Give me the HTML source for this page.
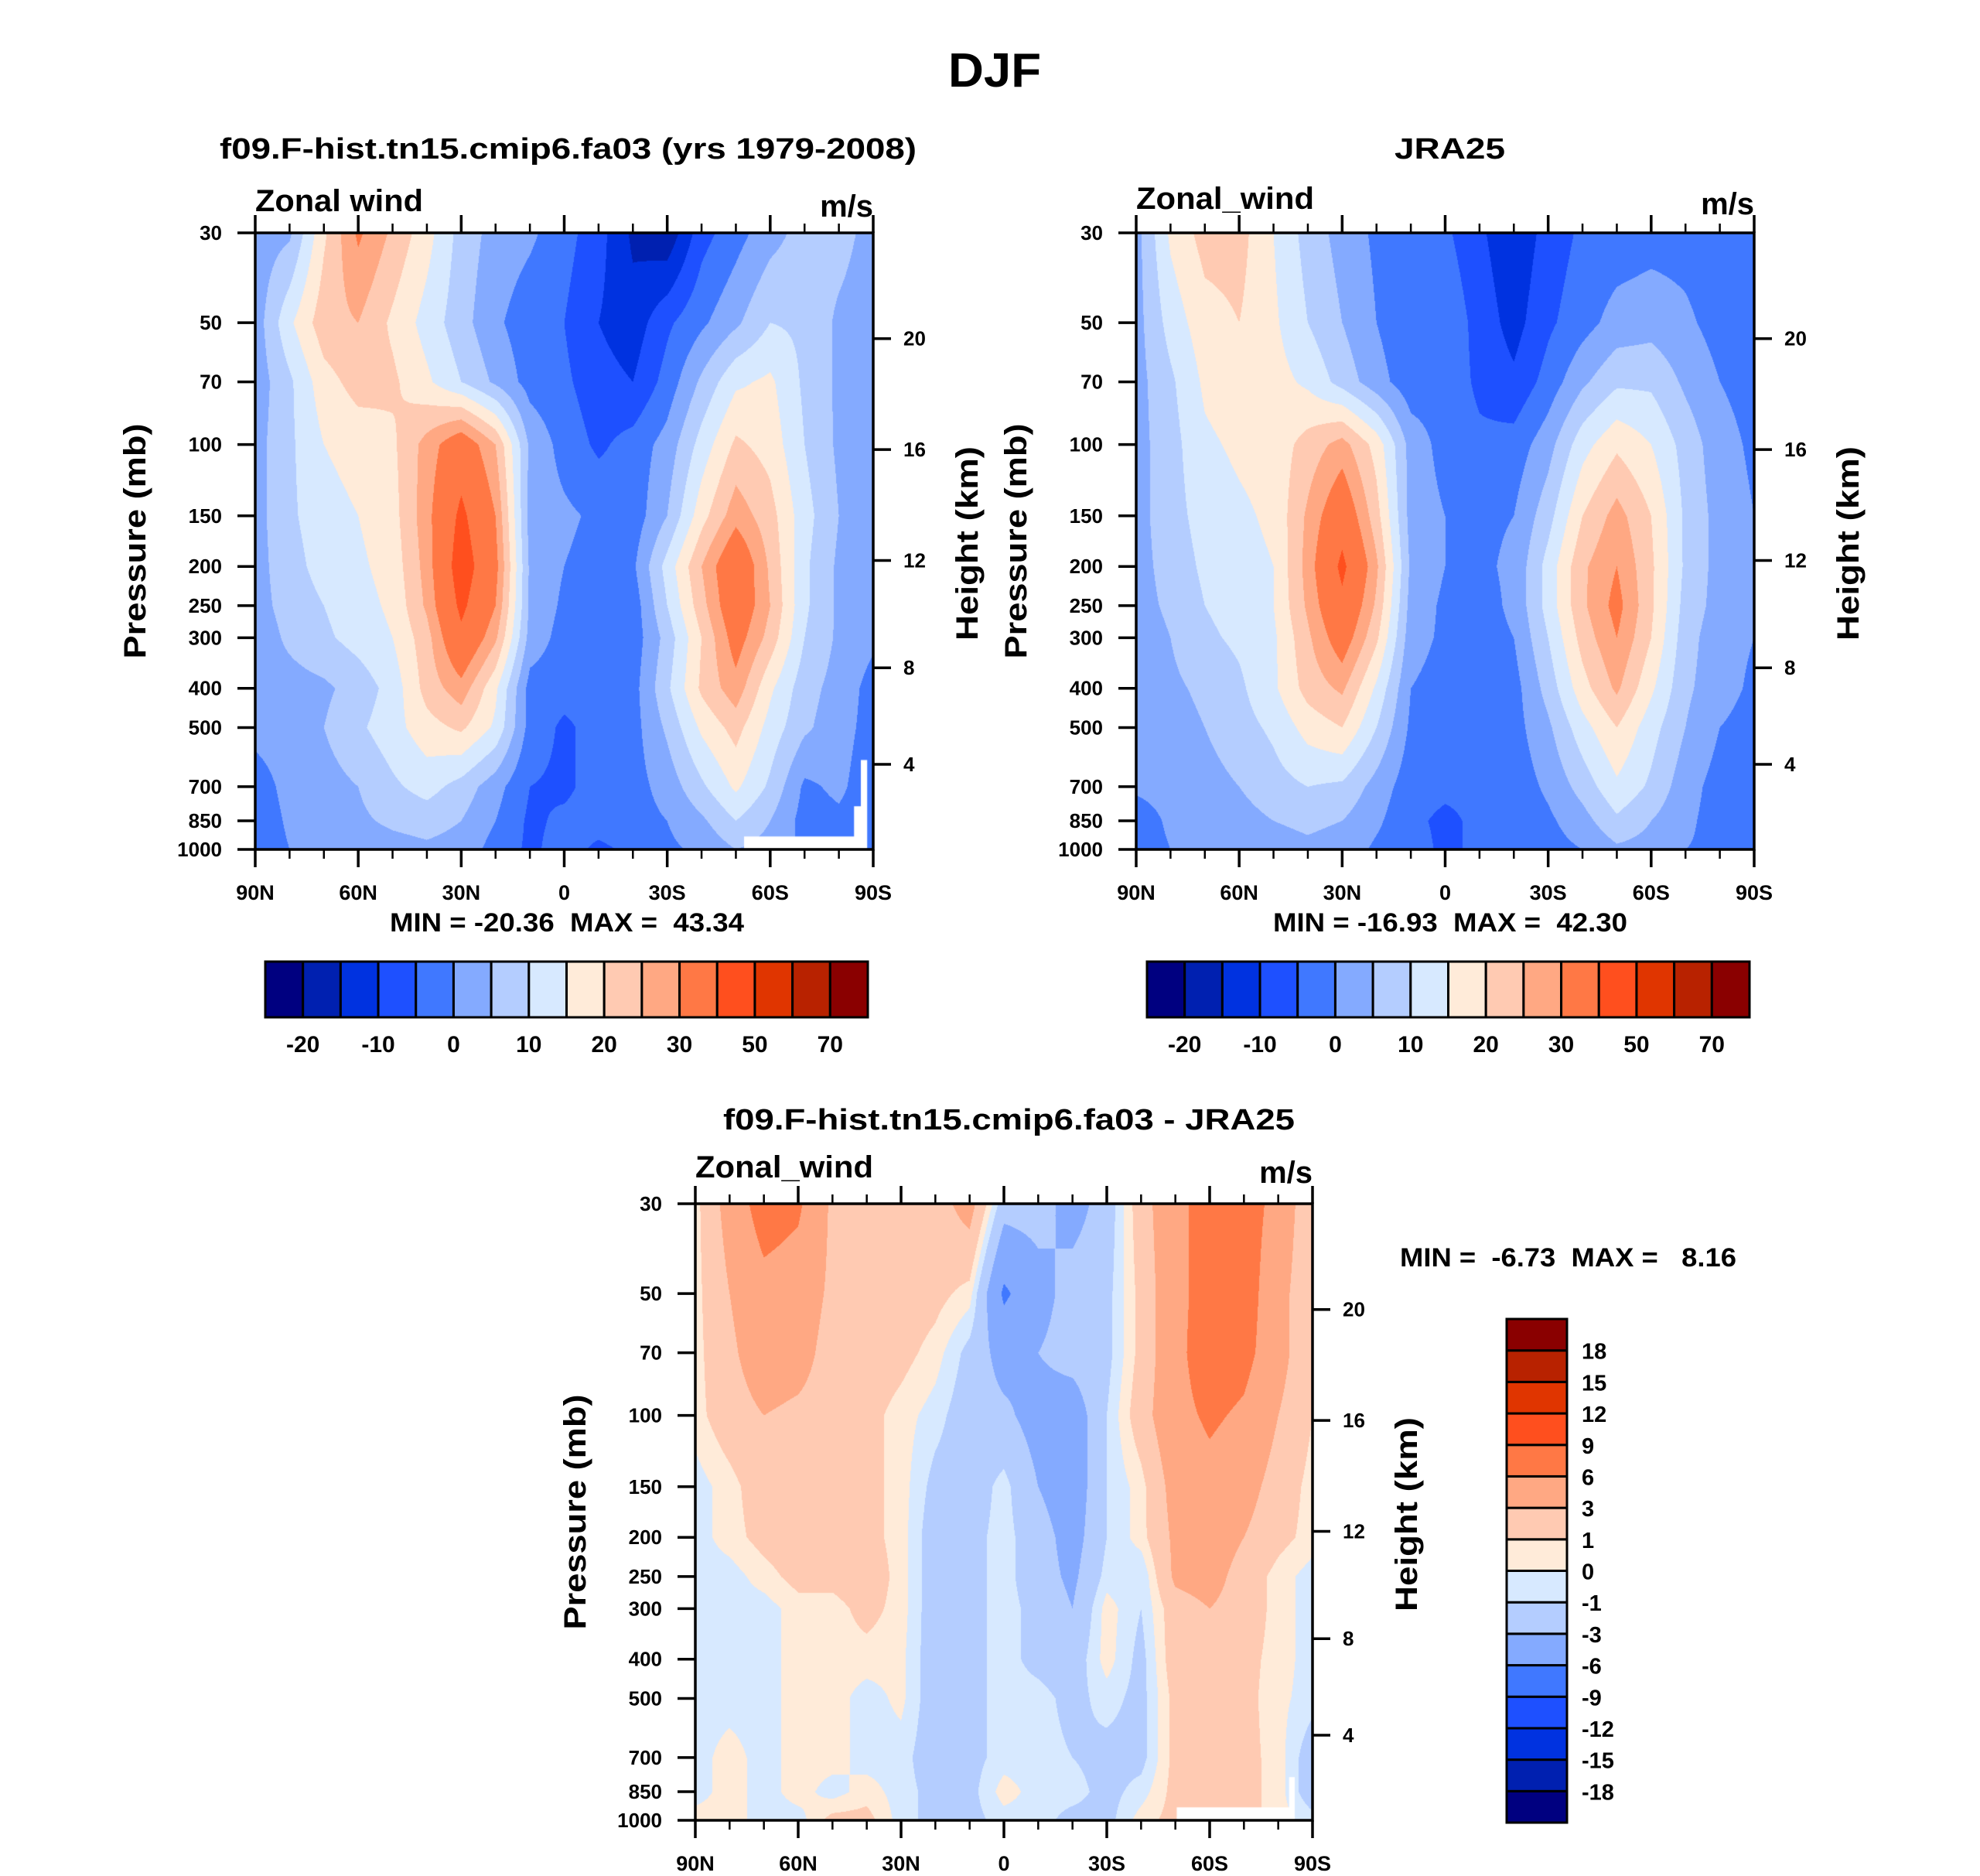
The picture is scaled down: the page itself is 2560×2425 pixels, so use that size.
<!DOCTYPE html>
<html><head><meta charset="utf-8">
<style>
html,body{margin:0;padding:0;background:#fff;}
#wrap{position:relative;width:2560px;height:2425px;overflow:hidden;background:#fff;}
canvas{position:absolute;}
svg{position:absolute;left:0;top:0;}
text{font-family:"Liberation Sans",Arial,sans-serif;font-weight:bold;fill:#000;white-space:pre;}
</style></head>
<body>
<div id="wrap">
<canvas id="c1"></canvas>
<canvas id="c2"></canvas>
<canvas id="c3"></canvas>
<svg id="ov" width="2560" height="2425"></svg>
</div>
<script>
// ---------- data ----------
const lats = [90,80,70,60,50,40,30,20,10,0,-10,-20,-30,-40,-50,-60,-70,-80,-90];
const levels = [30,50,70,100,150,200,250,300,400,500,700,850,1000];
const pressureTicks = [30,50,70,100,150,200,250,300,400,500,700,850,1000];
const heightTicks = [4,8,12,16,20];
const latTickLabels = ['90N','60N','30N','0','30S','60S','90S'];
const windLevels = [-20,-15,-10,-5,0,5,10,15,20,25,30,40,50,60,70];
const windLabelVals = [-20,-10,0,10,20,30,50,70];
const diffLevels = [-18,-15,-12,-9,-6,-3,-1,0,1,3,6,9,12,15,18];
const palette = ['#000080','#0020b0','#0032e0','#1e50ff','#4078ff','#84aaff','#b4cdff','#d7e9ff','#ffebd9','#ffcab2','#ffa883','#ff7845','#ff4f1e','#e03500','#b82200','#8a0000'];

const modelU = [
[2,4,19,31,24,17,8,3,1,-3,-8,-16,-19,-7,-2,3,7,7,3],
[2,14,23,25,19,13,7,1,-3,-5,-10,-13,-6,-1,4,10,9,4,2],
[2,9,18,22,21,16,10,4,-2,-4,-8,-10,-3,6,14,16,9,4,2],
[3,9,15,17,19,27,35,25,4,-2,-6,-3,2,12,21,18,10,4,2],
[3,9,13,15,18,28,42,30,3,1,-1,-3,5,18,28,22,12,5,3],
[3,8,12,14,17,27,45,32,4,0,-2,-1,12,25,37,24,11,4,2],
[3,7,10,13,16,26,42,30,4,-1,-3,-3,10,23,36,25,11,4,2],
[2,6,9,12,15,23,38,26,3,-2,-3,-3,7,20,33,23,10,4,1],
[3,3,4,7,12,22,28,16,-2,-3,-3,-2,9,21,28,16,7,3,-2],
[2,3,5,9,13,18,21,14,-2,-6,-3,-2,6,16,22,13,6,2,-2],
[-3,2,3,5,9,12,8,2,-5,-6,-3,-2,2,9,16,9,-1,1,-3],
[-4,1,2,4,6,7,5,0,-6,-4,-3,-2,0,4,10,5,-2,-1,-3],
[-4,0,1,2,3,4,3,-2,-6,-3,-6,-4,-1,1,5,3,-1,-1,-2]];

const jraU = [
[3,16,22,22,15,8,3,-1,-4,-4,-9,-14,-8,-4,-3,-2,-2,-3,-3],
[3,12,18,20,16,10,5,0,-4,-1,-7,-12,-6,-2,2,3,1,-2,-3],
[3,9,16,18,17,14,8,2,-3,-2,-6,-9,-3,4,9,9,4,0,-2],
[3,8,14,16,17,22,27,18,3,-2,-4,-3,3,13,19,15,8,2,-1],
[3,8,12,14,16,26,36,22,3,0,-1,0,8,20,27,20,9,3,0],
[3,7,11,13,15,27,42,26,4,0,-1,1,12,24,30,21,9,3,0],
[3,6,10,12,15,26,38,24,3,-1,-2,1,12,24,32,21,8,3,0],
[2,5,9,11,14,24,34,21,2,-1,-2,0,10,22,30,20,7,2,0],
[2,4,6,9,14,22,26,14,0,-2,-3,-2,7,18,26,16,6,2,-1],
[2,3,5,8,11,17,20,10,-1,-3,-3,-2,4,13,20,12,5,0,-2],
[1,2,3,5,8,10,9,3,-3,-4,-4,-3,1,7,14,9,2,-2,0],
[-3,1,2,3,5,6,5,1,-4,-6,-4,-3,-1,3,9,5,1,-2,-2],
[-3,0,1,2,3,4,3,-1,-3,-6,-4,-3,-2,0,4,3,0,-1,-1]];

const diffU = [
[0.5,4,7.5,6.5,2.5,2,2,2,4,-2,-2,-4,-2,2,5,7.5,7.5,5,1],
[0.5,3,5,4.5,2.5,2,2,1.5,0.5,-6.5,-4,-2,-1.5,1.5,5,7.5,7.5,4,1],
[0.5,2.5,4.5,4,2,2,1.5,0.5,-1.5,-4,-3,-2,-1.5,1.5,5,8,7,4,1],
[0.5,2,3,2.5,2,1.5,0.5,-0.5,-2,-2.5,-4,-4.5,-1,2,5,6.5,5.5,3,1],
[-0.5,0.5,2,2,1.5,1.5,0.5,-1.5,-2,-0.5,-3,-4.5,-1,0.5,4,5,4,2,0.5],
[-0.5,0.5,1.5,2,1.5,1.5,0.5,-2,-1.5,-0.5,-2,-4,-1,0.5,3.5,4.5,3,1.5,0.5],
[-0.5,-0.5,0.5,1.5,1.5,2,0.5,-2,-1.5,-0.5,-2,-3.5,-0.5,-1,3.5,4,2,0.5,-0.5],
[-0.5,-0.5,-0.5,0.5,0.5,1.5,0.5,-2,-1.5,-0.5,-1.5,-3,0.5,-1,2,3,2,0.5,-0.5],
[-0.5,-0.5,-0.5,0.5,0.5,0.5,0.3,-2,-1.5,-0.5,-1.5,-2,0.5,-1.5,2,2.5,1.5,0.5,-0.5],
[-0.5,-0.5,-0.5,0.5,0.5,-0.5,0.3,-2,-1.5,-0.5,-0.5,-1.5,-0.5,-1.5,1.5,2,1.5,0.3,-0.5],
[-0.5,0.5,-0.5,0.5,0.5,-0.5,-0.5,-2,-1.5,-0.5,-0.5,-1,-1.5,-1.5,1.5,2,1.5,0.5,-2],
[-0.5,0.5,-0.5,0.5,-0.5,0.5,-0.5,-1.5,-1.5,0.5,-0.5,-0.5,-1.5,-0.5,1.5,2,1.5,0.5,-2],
[0.5,0.5,-0.5,-0.5,1.5,1.5,-0.5,-1.5,-1.5,-0.5,-0.5,-1.5,-1.5,0.5,1.5,1.5,1.5,0.5,-0.5]];

// ---------- layout ----------
const panels = [
 {id:'c1', key:'model', x:330, y:301, w:799, h:797, field:modelU, lv:windLevels,
  title:'f09.F-hist.tn15.cmip6.fa03 (yrs 1979-2008)', tx:284, tw:901, ty:205,
  left:'Zonal wind', lw:217, lb:273, mask:[[0.791,0.979,0.178,0.021],[0.969,0.93,0.011,0.07],[0.98,0.855,0.009,0.145]],
  minmax:'MIN = -20.36  MAX =  43.34', mmx:504, mmw:458, mmy:1204,
  cb:{x:343,y:1243,w:779,h:72}},
 {id:'c2', key:'jra25', x:1469, y:301, w:799, h:797, field:jraU, lv:windLevels,
  title:'JRA25', tx:1803, tw:143, ty:205,
  left:'Zonal_wind', lw:230, lb:270, mask:[],
  minmax:'MIN = -16.93  MAX =  42.30', mmx:1646, mmw:458, mmy:1204,
  cb:{x:1483,y:1243,w:779,h:72}},
 {id:'c3', key:'diff', x:899, y:1556, w:798, h:797, field:diffU, lv:diffLevels,
  title:'f09.F-hist.tn15.cmip6.fa03 - JRA25', tx:935, tw:739, ty:1460,
  left:'Zonal_wind', lw:230, lb:1522, mask:[[0.78,0.979,0.182,0.021],[0.962,0.93,0.008,0.07]],
  minmax:'MIN =  -6.73  MAX =   8.16', mmx:1810, mmw:435, mmy:1637, cb:null}
];
const LP0 = Math.log(30), LPR = Math.log(1000/30);
function yFrac(p){ return (Math.log(p)-LP0)/LPR; }
function xFrac(lat){ return (90-lat)/180; }
function pOfZ(z){ if(z<=11){const T=288.15-6.5*z; return 1013.25*Math.pow(T/288.15,5.2559);} return 226.32*Math.exp(-(z-11)/6.3416); }
function colorIdx(v,lv){ let i=0; while(i<lv.length && v>=lv[i]) i++; return i; }
function hex(c){ return [parseInt(c.substr(1,2),16),parseInt(c.substr(3,2),16),parseInt(c.substr(5,2),16)]; }
const pal = palette.map(hex);

// ---------- fields ----------
panels.forEach(P=>{
  const cv=document.getElementById(P.id);
  cv.width=P.w; cv.height=P.h;
  cv.style.left=P.x+'px'; cv.style.top=P.y+'px';
  const ctx=cv.getContext('2d');
  const img=ctx.createImageData(P.w,P.h);
  const lvFr = levels.map(yFrac);
  const nx=lats.length-1;
  for(let py=0;py<P.h;py++){
    const f=(py+0.5)/P.h;
    let k=0; while(k<levels.length-2 && f>lvFr[k+1]) k++;
    const t=Math.min(1,Math.max(0,(f-lvFr[k])/(lvFr[k+1]-lvFr[k])));
    const r0=P.field[k], r1=P.field[k+1];
    for(let px=0;px<P.w;px++){
      const gx=(px+0.5)/P.w*nx;
      let j=Math.min(nx-1,Math.floor(gx)); const s=gx-j;
      const v=(r0[j]*(1-s)+r0[j+1]*s)*(1-t)+(r1[j]*(1-s)+r1[j+1]*s)*t;
      const c=pal[colorIdx(v,P.lv)];
      const o=(py*P.w+px)*4;
      img.data[o]=c[0]; img.data[o+1]=c[1]; img.data[o+2]=c[2]; img.data[o+3]=255;
    }
  }
  ctx.putImageData(img,0,0);
  ctx.fillStyle='#fff';
  P.mask.forEach(m=>ctx.fillRect(m[0]*P.w,m[1]*P.h,m[2]*P.w+1,m[3]*P.h+1));
});

// ---------- overlay ----------
const NS='http://www.w3.org/2000/svg';
const svg=document.getElementById('ov');
function el(tag,attrs,parent){ const e=document.createElementNS(NS,tag); for(const k in attrs) e.setAttribute(k,attrs[k]); (parent||svg).appendChild(e); return e; }
function txt(str,attrs,parent){ const e=el('text',attrs,parent); e.textContent=str; return e; }

const sup=txt('DJF',{x:1226,y:112,'font-size':62,textLength:120,lengthAdjust:'spacingAndGlyphs'});



panels.forEach(P=>{
  const g=el('g',{});
  
  
  const t=txt(P.title,{x:P.tx,y:P.ty,'font-size':38,textLength:P.tw,lengthAdjust:'spacingAndGlyphs'},g);
  
  
  const lt=txt(P.left,{x:P.x,y:P.lb,'font-size':40,textLength:P.lw,lengthAdjust:'spacingAndGlyphs'},g);
  
  
  const ut=txt('m/s',{x:P.x+P.w,y:P.lb+7,'font-size':40,'text-anchor':'end'},g);
  
  
  const fr=el('rect',{x:P.x,y:P.y,width:P.w,height:P.h,fill:'none',stroke:'#000','stroke-width':3.5},g);
  
  
  for(let lat=90;lat>=-90;lat-=10){
    const x=P.x+xFrac(lat)*P.w; const major=(lat%30===0); const L=major?23:12;
    el('line',{x1:x,y1:P.y,x2:x,y2:P.y-L,stroke:'#000','stroke-width':major?3.5:2.5},g);
    el('line',{x1:x,y1:P.y+P.h,x2:x,y2:P.y+P.h+L,stroke:'#000','stroke-width':major?3.5:2.5},g);
  }
  latTickLabels.forEach((s,i)=>{
    const x=P.x+i/6*P.w;
    const l=txt(s,{x:x,y:P.y+P.h+65,'font-size':27,'text-anchor':'middle'},g);
    
    
  });
  pressureTicks.forEach(p=>{
    const y=P.y+yFrac(p)*P.h;
    el('line',{x1:P.x,y1:y,x2:P.x-23,y2:y,stroke:'#000','stroke-width':3.5},g);
    const l=txt(String(p),{x:P.x-43,y:y+9,'font-size':26,'text-anchor':'end'},g);
    
    
  });
  heightTicks.forEach(z=>{
    const y=P.y+yFrac(pOfZ(z))*P.h;
    el('line',{x1:P.x+P.w,y1:y,x2:P.x+P.w+23,y2:y,stroke:'#000','stroke-width':3.5},g);
    const l=txt(String(z),{x:P.x+P.w+39,y:y+9,'font-size':26},g);
    
    
  });
  const cy=P.y+P.h/2;
  const pl=txt('Pressure (mb)',{x:0,y:0,'font-size':40,'text-anchor':'middle',textLength:304,lengthAdjust:'spacingAndGlyphs',transform:`translate(${P.x-142},${cy}) rotate(-90)`},g);
  
  
  const hl=txt('Height (km)',{x:0,y:0,'font-size':40,'text-anchor':'middle',textLength:251,lengthAdjust:'spacingAndGlyphs',transform:`translate(${P.x+P.w+135},${cy+3}) rotate(-90)`},g);
  
  
  const mm=txt(P.minmax,{x:P.mmx,y:P.mmy,'font-size':34,textLength:P.mmw,lengthAdjust:'spacingAndGlyphs'},g);
  
  
  if(P.cb){
    const cb=el('g',{},g);
    
    
    const bw=P.cb.w/palette.length;
    palette.forEach((c,i)=>{
      const r=el('rect',{x:P.cb.x+i*bw,y:P.cb.y,width:bw,height:P.cb.h,fill:c,stroke:'#000','stroke-width':3},cb);
      
      
    });
    windLabelVals.forEach(v=>{
      const bi=windLevels.indexOf(v)+1;
      const l=txt(String(v),{x:P.cb.x+bi*bw,y:1360,'font-size':30,'text-anchor':'middle'},cb);
      
      
    });
  }
});

const vcb=el('g',{});


const VX=1948, VY=1705, VW=78, VH=651, bh=VH/palette.length;
palette.forEach((c,i)=>{
  const r=el('rect',{x:VX,y:VY+VH-(i+1)*bh,width:VW,height:bh,fill:c,stroke:'#000','stroke-width':3},vcb);
  
  
});
diffLevels.forEach((v,i)=>{
  const y=VY+VH-(i+1)*bh;
  const l=txt(String(v),{x:2045,y:y+11,'font-size':29},vcb);
  
  
});
</script>
</body></html>
